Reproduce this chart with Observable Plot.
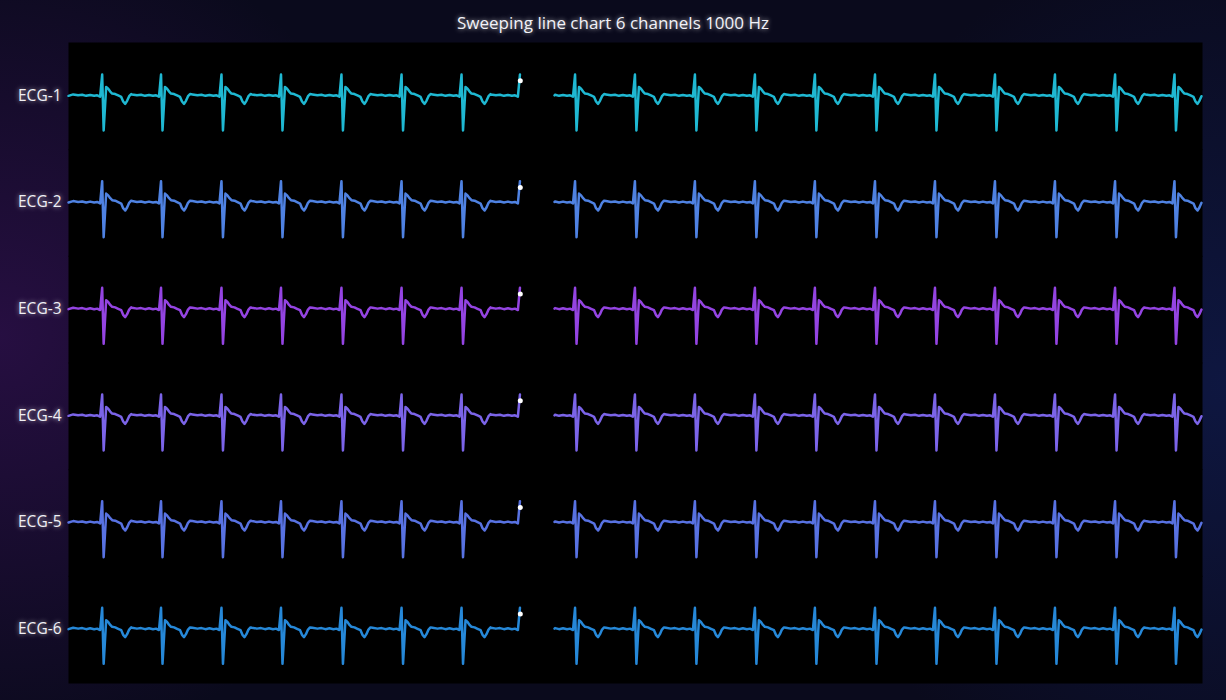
<!DOCTYPE html>
<html><head><meta charset="utf-8">
<script src="https://cdn.jsdelivr.net/npm/d3@7"></script>
<script src="https://cdn.jsdelivr.net/npm/@observablehq/plot@0.6"></script>
<style>
html,body{margin:0;padding:0;width:1226px;height:700px;overflow:hidden;}
body{
  background:
    radial-gradient(ellipse 420px 420px at 0% 48%, rgba(48,16,78,0.75) 0%, rgba(48,16,78,0) 100%),
    radial-gradient(ellipse 420px 460px at 100% 55%, rgba(16,28,80,0.7) 0%, rgba(16,28,80,0) 100%),
    #0a0a1c;
  font-family:"Open Sans","Noto Sans",sans-serif;
}
#title{height:42px;line-height:45px;text-align:center;color:#f2f2f8;font-size:17px;
  text-shadow:0 0 5px rgba(255,255,255,0.75);}
#chart svg{display:block;}
#chart svg text{text-shadow:0 0 5px rgba(255,255,255,0.7);}
</style></head><body>
<div id="title">Sweeping line chart 6 channels 1000 Hz</div>
<div id="chart"></div>
<script>
// channels and colours
const channels = ["ECG-1", "ECG-2", "ECG-3", "ECG-4", "ECG-5", "ECG-6"];
const channelColors = ["#1fb8d2", "#4f82e2", "#9444e2", "#7b64e8", "#5872e2", "#2688d8"];

// one heartbeat: offset from the R peak (ms) and value (mV)
const beatOffsetsMs = [-256, -212, -176, -141, -106, -71, -44, -18, 0, 13, 35, 53, 71, 88, 115, 141, 168, 185, 203, 220, 238, 256];
const beatValuesMv  = [0.08, 0.03, 0.06, 0.0, 0.05, 0.0, 0.03, -0.05, 1.2, -1.95, 0.5, 0.4, 0.24, 0.13, 0.1, 0.02, -0.06, -0.32, -0.45, -0.28, -0.02, 0.1];

// R-peak times of the new sweep (left of the head) and the old sweep (right of the gap)
const newBeatTimesMs = [297, 816, 1349, 1874, 2407, 2937, 3466, 3981];
const oldBeatTimesMs = [4467, 4995, 5524, 6053, 6582, 7112, 7641, 8170, 8699, 9229, 9753];

const windowMs = 10000;
const sweepHeadMs = 3984;
const gapEndMs = 4286;
const headValueMv = 0.85;
const startValueMv = 0.0;
const gapEndValueMv = 0.03;

function buildSegment(channel, seg, beats, t0, t1, v0) {
  const pts = [{channel, seg, t: t0, v: v0}];
  for (const b of beats) {
    beatOffsetsMs.forEach((o, i) => {
      const t = b + o;
      if (t > t0 && t <= t1) pts.push({channel, seg, t, v: beatValuesMv[i]});
    });
  }
  pts.sort((a, b) => a.t - b.t);
  return pts;
}

const rows = [];
const heads = [];
channels.forEach(ch => {
  rows.push(...buildSegment(ch, ch + "-new", newBeatTimesMs, 0, sweepHeadMs, startValueMv));
  rows.push(...buildSegment(ch, ch + "-old", oldBeatTimesMs, gapEndMs, windowMs, gapEndValueMv));
  heads.push({channel: ch, t: sweepHeadMs, v: headValueMv});
});

const chart = Plot.plot({
  width: 1226,
  height: 658,
  marginLeft: 68,
  marginRight: 24,
  marginTop: 0,
  marginBottom: 18,
  style: {background: "transparent", fontFamily: "'Open Sans','Noto Sans',sans-serif", color: "#f0f0f5"},
  x: {domain: [0, windowMs], axis: null},
  y: {domain: [-3, 3], axis: null},
  fy: {domain: channels, padding: 0, round: false, axis: null},
  color: {domain: channels, range: channelColors},
  marks: [
    Plot.frame({fill: "black", stroke: "none", insetBottom: -1}),
    Plot.axisFy({anchor: "left", tickSize: 0, tickPadding: 7, fontSize: 15.5, fill: "#f0f0f5", label: null}),
    Plot.line(rows, {x: "t", y: "v", fy: "channel", z: "seg", stroke: "channel", strokeWidth: 2.5, strokeLinejoin: "round"}),
    Plot.dot(heads, {x: "t", y: "v", fy: "channel", r: 2.5, fill: "white", stroke: "none"})
  ]
});
document.getElementById("chart").appendChild(chart);
</script>
</body></html>
